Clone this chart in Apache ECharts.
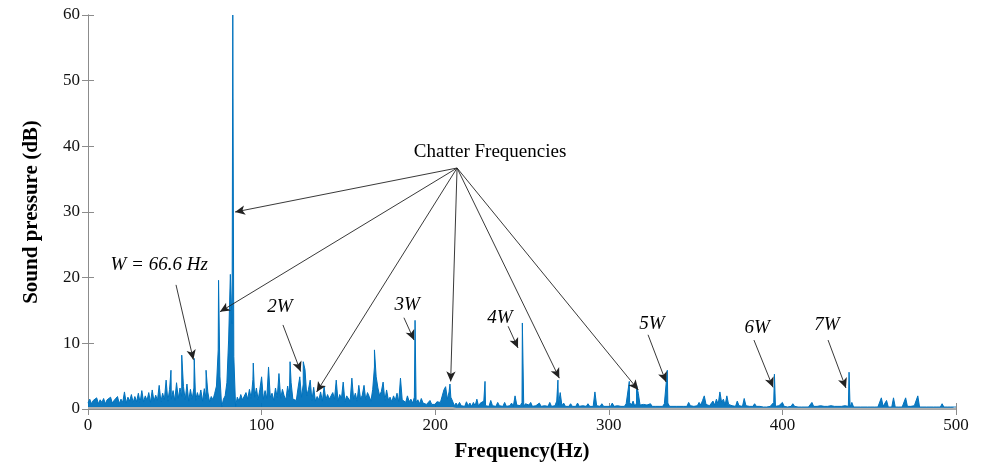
<!DOCTYPE html>
<html>
<head>
<meta charset="utf-8">
<script src="https://cdn.jsdelivr.net/npm/echarts@6/dist/echarts.min.js"></script>
<style>
html, body { margin: 0; padding: 0; background: #fff; }
#main { width: 987px; height: 465px; }
</style>
</head>
<body>
<div id="main"></div>
<script>
// noise floor, one value per Hz (0..500 Hz), in dB
var floorDb = [
  0.9,1.5,0.8,1.3,1.0,1.7,0.8,1.4,1.0,1.6,
  0.8,1.4,1.1,1.8,0.9,1.3,1.0,1.9,0.8,1.5,
  1.0,2.6,0.9,1.8,1.2,2.2,1.0,1.9,1.1,2.4,
  1.0,2.8,1.1,2.0,1.3,2.5,1.0,2.9,1.2,2.1,
  1.3,3.6,1.1,2.4,1.4,4.4,1.2,3.0,1.5,2.8,
  1.3,4.0,1.6,3.2,1.9,3.4,1.4,3.8,1.2,3.0,
  1.5,3.2,1.3,2.5,1.6,2.9,1.2,3.1,1.6,2.6,
  1.1,1.9,1.4,2.4,3.5,9.0,5.0,0.3,1.5,2.0,
  4.0,10.5,20.5,13.0,8.0,0.4,1.8,1.2,2.2,1.4,
  1.2,2.5,1.5,3.0,1.6,4.5,1.8,3.2,1.4,3.0,
  4.9,1.5,2.8,1.6,6.4,1.8,2.4,1.3,3.2,1.7,
  5.4,1.6,3.0,2.0,1.4,3.5,1.9,4.0,1.5,1.8,
  1.3,3.2,4.9,1.8,3.8,6.0,2.0,3.0,4.4,1.3,
  3.3,1.2,1.9,1.4,2.6,1.2,3.4,1.4,2.2,1.5,
  1.2,2.5,1.5,4.4,1.2,2.2,1.6,4.1,1.1,2.0,
  1.9,1.2,4.7,1.5,2.4,1.2,3.6,1.5,2.1,3.6,
  1.4,2.5,1.9,1.2,3.0,6.4,4.9,3.2,2.0,2.7,
  4.1,1.3,2.9,1.4,1.8,1.1,2.0,1.3,2.4,1.1,
  4.7,1.4,1.6,1.0,2.0,1.1,1.5,0.9,1.8,1.0,
  1.4,0.8,1.6,0.9,1.2,0.7,1.0,1.3,0.7,0.9,
  0.7,1.1,0.8,1.0,0.8,2.9,3.4,1.5,2.6,1.8,
  1.2,0.5,0.9,0.5,1.0,0.5,0.8,0.4,1.1,0.5,
  0.9,0.4,1.0,0.5,1.5,0.4,0.9,0.6,1.2,0.5,
  0.8,0.4,1.3,0.5,0.7,0.4,1.0,0.5,0.8,0.4,
  1.0,0.4,0.7,0.5,0.9,0.4,2.0,0.6,0.9,0.5,
  1.0,0.4,0.8,0.5,0.6,1.0,0.4,0.7,0.5,0.8,
  0.9,0.4,0.7,0.5,0.8,0.4,1.0,0.4,0.6,0.5,
  1.2,0.6,2.5,0.5,0.9,0.4,0.7,0.4,0.8,0.4,
  0.6,0.4,0.9,0.4,0.7,0.5,0.6,0.4,0.8,0.4,
  0.7,0.4,2.6,0.5,0.6,0.4,0.8,0.4,0.6,0.4,
  0.7,0.4,0.9,0.4,0.6,0.5,0.8,0.4,0.6,0.4,
  0.8,0.5,1.0,0.6,1.2,0.4,0.9,2.4,0.6,0.4,
  0.7,0.4,0.6,0.4,0.8,0.4,0.5,0.4,0.7,0.4,
  0.6,0.4,0.8,0.6,0.9,0.4,0.6,0.4,0.5,0.4,
  0.6,0.4,0.5,0.4,0.7,0.4,1.0,0.5,0.6,0.4,
  0.7,0.5,1.0,0.6,1.3,2.0,0.7,1.0,0.5,0.8,
  1.2,0.6,1.5,0.7,2.6,1.0,1.5,0.6,2.0,0.7,
  1.0,0.5,0.8,0.4,1.2,0.5,0.8,0.4,1.6,0.5,
  0.7,0.4,0.6,0.4,0.8,0.4,0.5,0.4,0.6,0.3,
  0.5,0.3,0.6,0.4,0.5,1.0,0.4,0.3,0.5,0.4,
  1.0,0.4,0.5,0.3,0.6,0.4,0.8,0.4,0.5,0.3,
  0.5,0.3,0.4,0.3,0.5,0.3,0.6,1.0,0.4,0.3,
  0.4,0.3,0.5,0.3,0.4,0.3,0.4,0.3,0.5,0.3,
  0.4,0.3,0.4,0.3,0.4,0.3,0.5,0.3,0.4,0.3,
  1.0,0.3,0.4,0.3,0.4,0.3,0.4,0.3,0.4,0.3,
  0.4,0.3,0.5,0.3,0.4,0.3,0.6,1.7,0.4,0.3,
  1.3,0.3,0.5,0.3,1.7,0.3,0.4,0.3,0.5,0.3,
  0.4,1.7,0.4,0.3,0.4,0.3,0.5,0.3,2.0,0.3,
  0.4,0.3,0.4,0.3,0.4,0.3,0.4,0.3,0.4,0.3,
  0.4,0.3,0.8,0.3,0.4,0.3,0.4,0.3,0.4,0.3,
  0.3
];

// narrow spectral lines [Hz, dB]
var peaks = [
  [47.8, 5.9], [54, 8.2], [61.2, 7.7], [68, 5.9], [75.2, 19.6], [83.4, 60],
  [95.2, 7], [116.4, 7.2], [124, 7.2], [165, 9], [188.4, 13.5], [208.5, 3.8],
  [228.7, 4.2], [250.2, 13.1], [270.7, 4.4], [311.8, 4.2], [316, 3.6],
  [333.7, 5.9], [395.4, 5.3], [438.4, 5.6]
];

// grey background trace along the bottom
var background = [[0, 0.15], [210, 0.15], [212, 0.05], [500, 0.05]];

// annotations
var chatterFrom = [212.6, 36.7];
var chatterTo = [[84.7, 30], [76, 14.8], [131.7, 2.6], [208.9, 4.2], [271.5, 4.7], [317, 2.9]];
var harmLabels = ['W = 66.6 Hz', '2W', '3W', '4W', '5W', '6W', '7W'];
var harmLabelPos = [[41, 22], [110.6, 15.5], [183.8, 15.8], [237.3, 13.9], [324.9, 13], [385.4, 12.3], [425.7, 12.8]];
var harmArrows = [
  [[50.7, 18.9], [60.7, 7.5]],
  [[112.3, 12.8], [122.5, 5.7]],
  [[182, 13.9], [187.8, 10.5]],
  [[242, 12.6], [247.7, 9.3]],
  [[322.6, 11.3], [333, 4.1]],
  [[383.6, 10.5], [394.6, 3.3]],
  [[426.3, 10.5], [436.6, 3.2]]
];

var spectrum = floorDb.map(function (v, i) { return [i, v]; }).concat(peaks);
spectrum.sort(function (a, b) { return a[0] - b[0]; });

var serif = '"Liberation Serif", "DejaVu Serif", serif';
var frame = '#8c8c8c';

var arrowLines = chatterTo.map(function (p) {
  return [{ coord: chatterFrom }, { coord: p }];
}).concat(harmArrows.map(function (a) {
  return [{ coord: a[0] }, { coord: a[1] }];
}));

var labelPoints = harmLabels.map(function (t, i) {
  return {
    coord: harmLabelPos[i],
    label: { formatter: t }
  };
});
labelPoints.push({
  coord: [231.6, 39.1],
  label: { formatter: 'Chatter Frequencies', fontStyle: 'normal', fontSize: 19 }
});

function sideAxis(pos, isX) {
  return {
    type: 'value', position: pos, min: 0,
    max: isX ? 500 : 60, interval: isX ? 100 : 10,
    axisLine: { show: true, lineStyle: { color: frame, width: 1 } },
    axisTick: { show: true, inside: true, length: 6, lineStyle: { color: frame } },
    axisLabel: { show: false },
    splitLine: { show: false }
  };
}

var chart = echarts.init(document.getElementById('main'));
chart.setOption({
  animation: false,
  backgroundColor: '#fff',
  grid: { left: 88, right: 31, top: 15, bottom: 56, containLabel: false, outerBoundsMode: 'none' },
  xAxis: [{
    type: 'value', min: 0, max: 500, interval: 100,
    name: 'Frequency(Hz)', nameLocation: 'middle', nameGap: 32,
    nameTextStyle: { fontFamily: serif, fontWeight: 'bold', fontSize: 21, color: '#000' },
    axisLine: { show: true, onZero: false, lineStyle: { color: frame, width: 1 } },
    axisTick: { show: true, inside: true, length: 6, lineStyle: { color: frame } },
    axisLabel: { fontFamily: serif, fontSize: 17, color: '#111', margin: 8 },
    splitLine: { show: false }
  }, sideAxis('top', true)],
  yAxis: [{
    type: 'value', min: 0, max: 60, interval: 10,
    name: 'Sound pressure (dB)', nameLocation: 'middle', nameGap: 46,
    nameTextStyle: { fontFamily: serif, fontWeight: 'bold', fontSize: 21, color: '#000' },
    axisLine: { show: true, onZero: false, lineStyle: { color: frame, width: 1 } },
    axisTick: { show: true, inside: true, length: 6, lineStyle: { color: frame } },
    axisLabel: { fontFamily: serif, fontSize: 17, color: '#111', margin: 8 },
    splitLine: { show: false }
  }, sideAxis('right', false)],
  series: [{
    type: 'line',
    data: spectrum,
    showSymbol: false,
    sampling: null,
    lineStyle: { color: '#0072BD', width: 1 },
    areaStyle: { color: '#0072BD', opacity: 0.95 },
    z: 2,
    markLine: {
      silent: true,
      symbol: ['none', 'arrow'],
      symbolSize: [7, 10],
      lineStyle: { color: '#222', width: 0.9, type: 'solid' },
      label: { show: false },
      data: arrowLines
    },
    markPoint: {
      silent: true,
      symbol: 'circle',
      symbolSize: 1,
      itemStyle: { color: 'rgba(0,0,0,0)' },
      label: {
        show: true, position: 'inside',
        fontFamily: serif, fontStyle: 'italic', fontSize: 19, color: '#000'
      },
      data: labelPoints
    }
  }, {
    type: 'line',
    data: background,
    showSymbol: false,
    lineStyle: { color: '#b0b0b0', width: 2 },
    silent: true,
    z: 3
  }]
});
</script>
</body>
</html>
